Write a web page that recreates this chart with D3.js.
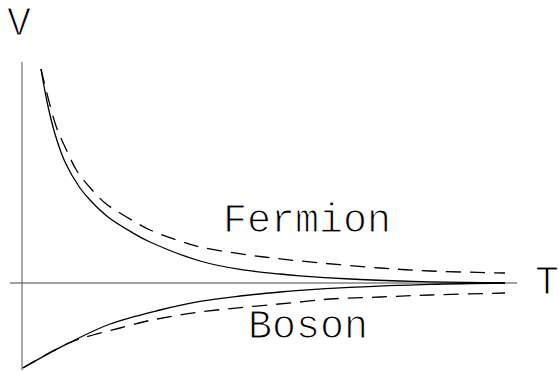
<!DOCTYPE html>
<html>
<head>
<meta charset="utf-8">
<script src="https://cdn.jsdelivr.net/npm/d3@7"></script>
<style>
  html, body { margin: 0; padding: 0; background: #fff; }
  svg { display: block; }
  text { font-family: "Courier New", Courier, "Nimbus Mono PS", "Nimbus Mono L", FreeMono, "Liberation Mono", monospace; fill: #000; }
</style>
</head>
<body>
<svg id="chart" width="559" height="371"></svg>
<script>
// Data (T along horizontal axis, V along vertical axis)
const fermionSolidT = [0.393, 0.524, 0.683, 0.89, 1.201, 1.408, 1.781, 2.298, 2.65, 3.685, 4.513, 5.342, 5.756, 6.8, 7.826, 8.447, 10];
const fermionSolidV = [10.7, 9.0, 7.45, 6.05, 4.75, 4.15, 3.3, 2.5, 2.05, 1.1, 0.68, 0.45, 0.36, 0.2, 0.1, 0.06, 0];

const fermionDashT = [0.393, 0.704, 0.911, 1.139, 1.47, 1.718, 1.863, 2.34, 2.65, 3.209, 3.685, 4.7, 5.756, 7.412, 8.447, 10];
const fermionDashV = [10.7, 7.85, 6.7, 5.6, 4.6, 4.0, 3.75, 3.05, 2.65, 2.15, 1.8, 1.4, 1.1, 0.75, 0.6, 0.5];

const bosonSolidT = [0.015, 0.952, 1.822, 2.857, 3.685, 4.513, 5.342, 5.756, 6.79, 8.447, 10];
const bosonSolidV = [-4.25, -3.02, -2.05, -1.35, -0.92, -0.65, -0.45, -0.37, -0.22, -0.07, 0];

const bosonDashT = [0.015, 0.952, 1.47, 2.03, 2.505, 2.795, 3.685, 5.756, 6.377, 7.412, 8.447, 10];
const bosonDashV = [-4.25, -3.02, -2.6, -2.25, -1.95, -1.8, -1.45, -0.95, -0.8, -0.7, -0.6, -0.5];

const labels = ["V", "T", "Fermion", "Boson"];

const svg = d3.select("#chart");
const x = d3.scaleLinear().domain([0, 10]).range([22, 505]);
const y = d3.scaleLinear().domain([-4.35, 11.05]).range([370, 62]);

// axes (plain lines, no ticks)
svg.append("line")
  .attr("x1", x(-0.25)).attr("x2", x(10.25))
  .attr("y1", y(0)).attr("y2", y(0))
  .attr("stroke", "#444").attr("stroke-width", 1);
svg.append("line")
  .attr("x1", x(0)).attr("x2", x(0))
  .attr("y1", y(11.05)).attr("y2", y(-4.35))
  .attr("stroke", "#555").attr("stroke-width", 1);

const line = d3.line().x(d => x(d[0])).y(d => y(d[1])).curve(d3.curveCatmullRom.alpha(0.5));
function series(ts, vs) { return ts.map((t, i) => [t, vs[i]]); }

const curves = [
  { d: series(fermionSolidT, fermionSolidV), dash: null },
  { d: series(fermionDashT, fermionDashV), dash: "15,9" },
  { d: series(bosonSolidT, bosonSolidV), dash: null },
  { d: series(bosonDashT, bosonDashV), dash: "15,9" }
];
curves.forEach(c => {
  svg.append("path")
    .attr("d", line(c.d))
    .attr("fill", "none")
    .attr("stroke", "#000")
    .attr("stroke-width", 1.3)
    .attr("stroke-dasharray", c.dash);
});

// labels (thin white outline makes the monospace glyphs lighter, closer to Courier)
const fs = 40;
const lab = [
  { t: labels[0], x: 7, y: 35 },
  { t: labels[1], x: 535, y: 294 },
  { t: labels[2], x: 223, y: 232 },
  { t: labels[3], x: 248, y: 338 }
];
lab.forEach(l => {
  svg.append("text").attr("x", l.x).attr("y", l.y).attr("font-size", fs)
    .attr("stroke", "#fff").attr("stroke-width", 1.1)
    .text(l.t);
});
</script>
</body>
</html>
